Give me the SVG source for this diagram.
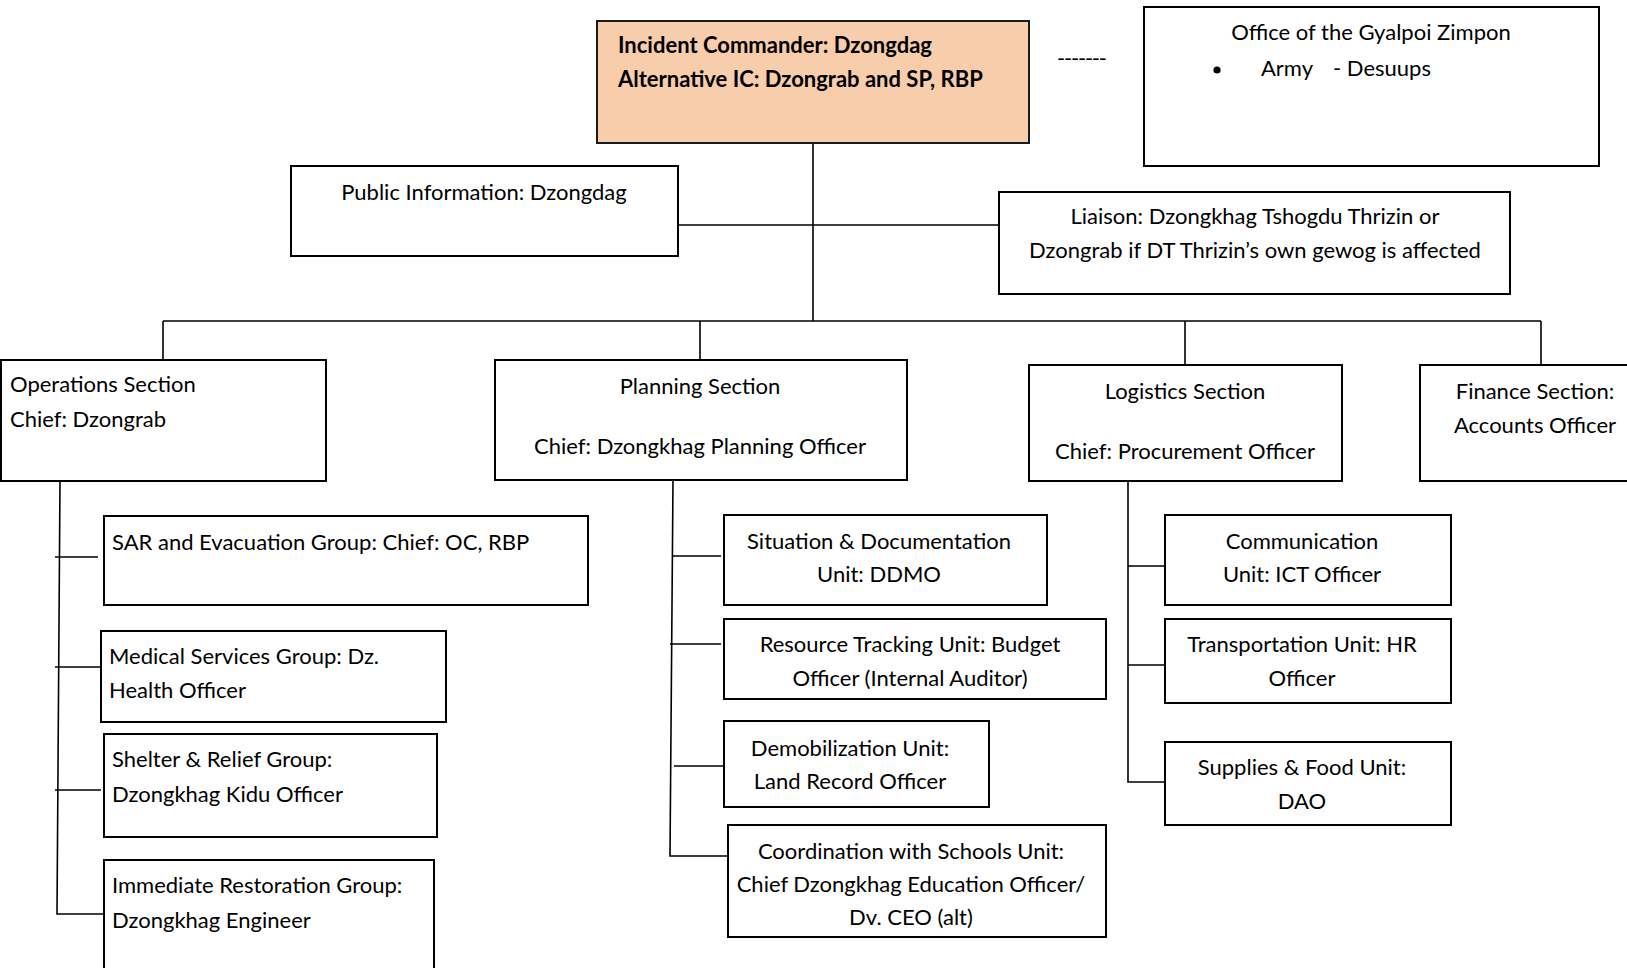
<svg xmlns="http://www.w3.org/2000/svg" width="1627" height="968" viewBox="0 0 1627 968">
<style>
.box{fill:#fff;stroke:#000;stroke-width:2}
.ic{fill:#F8CDAC;stroke:#1a1a1a;stroke-width:2}
.t{font-family:Lato,"Liberation Sans",sans-serif;font-size:22px;fill:#000}
.b{font-weight:bold}
.c{text-anchor:middle}
.ln{fill:none;stroke:#000;stroke-width:1.6}
</style>
<rect width="1627" height="968" fill="#fff"/>
<g id="connectors">
<path class="ln" d="M813,142 V321 M677,225 H999 M163,321 H1541 M163,321 V360 M700,321 V360 M1185,321 V365 M1541,321 V365"/>
<path class="ln" d="M60,480 L57,914 H103 M55,557 H98 M55,667 H101 M55,790 H101"/>
<path class="ln" d="M673,480 L670,856 H727 M673,556 H721 M670,644 H721 M674,766 H724"/>
<path class="ln" d="M1128,481 V782 H1165 M1128,566 H1165 M1128,665 H1165"/>
</g>
<g id="ic">
<rect class="ic" x="597" y="21" width="432" height="122"/>
<text class="t b" x="618" y="53">Incident Commander: Dzongdag</text>
<text class="t b" x="618" y="87">Alternative IC: Dzongrab and SP, RBP</text>
</g>
<text id="dashes" class="t" x="1057" y="66" textLength="50">-------</text>
<g id="gyalpoi">
<rect class="box" x="1144" y="7" width="455" height="159"/>
<text class="t c" x="1371" y="40">Office of the Gyalpoi Zimpon</text>
<circle cx="1217" cy="70" r="3.6" fill="#000"/>
<text class="t" x="1261" y="76">Army</text>
<text class="t" x="1333" y="76">- Desuups</text>
</g>
<g id="public-info">
<rect class="box" x="291" y="166" width="387" height="90"/>
<text class="t c" x="484" y="200">Public Information: Dzongdag</text>
</g>
<g id="liaison">
<rect class="box" x="999" y="192" width="511" height="102"/>
<text class="t c" x="1255" y="224">Liaison: Dzongkhag Tshogdu Thrizin or</text>
<text class="t c" x="1255" y="258">Dzongrab if DT Thrizin’s own gewog is affected</text>
</g>
<g id="operations">
<rect class="box" x="1" y="360" width="325" height="121"/>
<text class="t" x="10" y="392">Operations Section</text>
<text class="t" x="10" y="427">Chief: Dzongrab</text>
</g>
<g id="planning">
<rect class="box" x="495" y="360" width="412" height="120"/>
<text class="t c" x="700" y="394">Planning Section</text>
<text class="t c" x="700" y="454">Chief: Dzongkhag Planning Officer</text>
</g>
<g id="logistics">
<rect class="box" x="1029" y="365" width="313" height="116"/>
<text class="t c" x="1185" y="399">Logistics Section</text>
<text class="t c" x="1185" y="459">Chief: Procurement Officer</text>
</g>
<g id="finance">
<rect class="box" x="1420" y="365" width="230" height="116"/>
<text class="t c" x="1535" y="399">Finance Section:</text>
<text class="t c" x="1535" y="433">Accounts Officer</text>
</g>
<g id="sar">
<rect class="box" x="104" y="516" width="484" height="89"/>
<text class="t" x="112" y="550">SAR and Evacuation Group: Chief: OC, RBP</text>
</g>
<g id="medical">
<rect class="box" x="101" y="631" width="345" height="91"/>
<text class="t" x="109" y="664">Medical Services Group: Dz.</text>
<text class="t" x="109" y="698">Health Officer</text>
</g>
<g id="shelter">
<rect class="box" x="104" y="734" width="333" height="103"/>
<text class="t" x="112" y="767">Shelter &amp; Relief Group:</text>
<text class="t" x="112" y="802">Dzongkhag Kidu Officer</text>
</g>
<g id="restoration">
<rect class="box" x="104" y="860" width="330" height="130"/>
<text class="t" x="112" y="893">Immediate Restoration Group:</text>
<text class="t" x="112" y="928">Dzongkhag Engineer</text>
</g>
<g id="situation">
<rect class="box" x="724" y="515" width="323" height="90"/>
<text class="t c" x="879" y="549">Situation &amp; Documentation</text>
<text class="t c" x="879" y="582">Unit: DDMO</text>
</g>
<g id="resource">
<rect class="box" x="724" y="619" width="382" height="80"/>
<text class="t c" x="910" y="652">Resource Tracking Unit: Budget</text>
<text class="t c" x="910" y="686">Officer (Internal Auditor)</text>
</g>
<g id="demobilization">
<rect class="box" x="724" y="721" width="265" height="86"/>
<text class="t c" x="850" y="756">Demobilization Unit:</text>
<text class="t c" x="850" y="789">Land Record Officer</text>
</g>
<g id="coordination">
<rect class="box" x="728" y="825" width="378" height="112"/>
<text class="t c" x="911" y="859">Coordination with Schools Unit:</text>
<text class="t c" x="911" y="892">Chief Dzongkhag Education Officer/</text>
<text class="t c" x="911" y="925">Dv. CEO (alt)</text>
</g>
<g id="communication">
<rect class="box" x="1165" y="515" width="286" height="90"/>
<text class="t c" x="1302" y="549">Communication</text>
<text class="t c" x="1302" y="582">Unit: ICT Officer</text>
</g>
<g id="transportation">
<rect class="box" x="1165" y="619" width="286" height="84"/>
<text class="t c" x="1302" y="652">Transportation Unit: HR</text>
<text class="t c" x="1302" y="686">Officer</text>
</g>
<g id="supplies">
<rect class="box" x="1165" y="742" width="286" height="83"/>
<text class="t c" x="1302" y="775">Supplies &amp; Food Unit:</text>
<text class="t c" x="1302" y="809">DAO</text>
</g>
</svg>
